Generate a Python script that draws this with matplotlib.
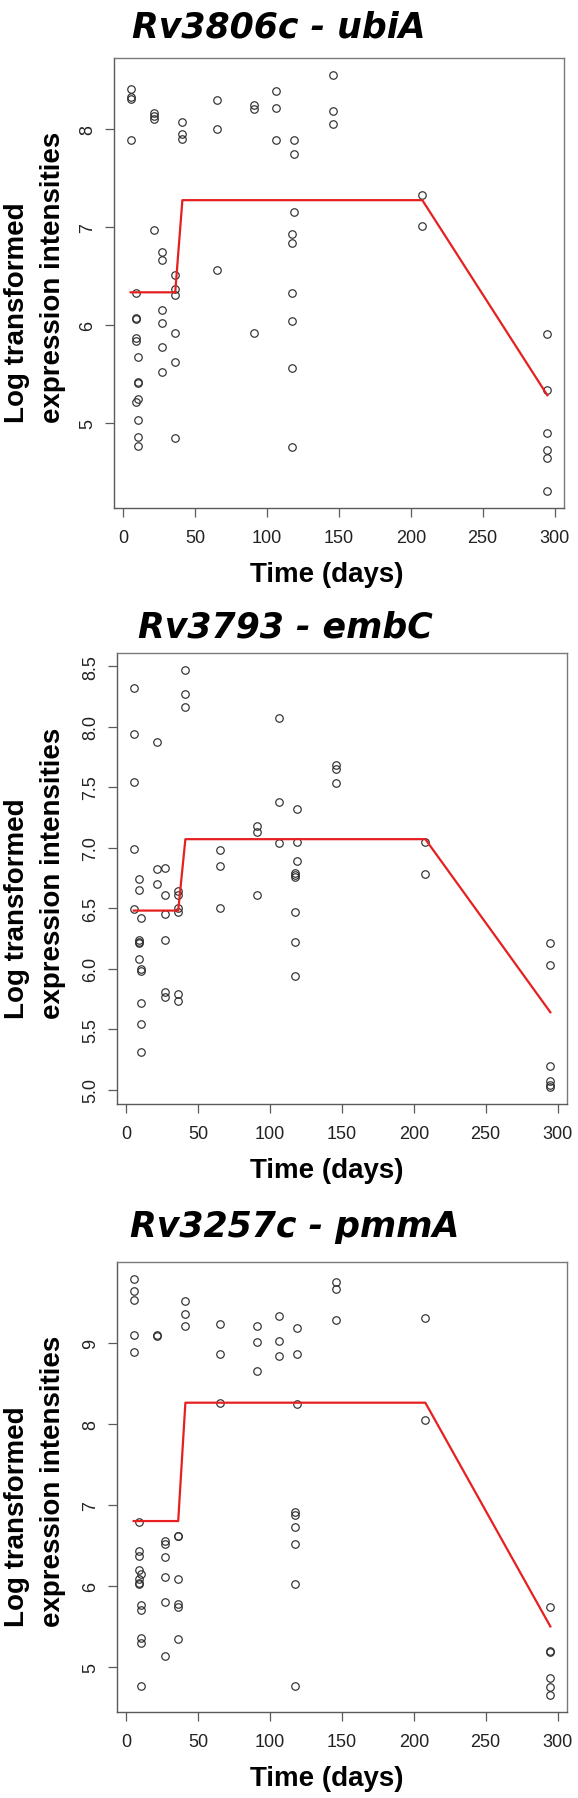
import matplotlib
matplotlib.use("Agg")
import matplotlib.pyplot as plt
import numpy as np

plt.rcParams['font.family'] = ['Liberation Sans', 'DejaVu Sans']

# ---------------- data ----------------
titles = ["Rv3806c - ubiA", "Rv3793 - embC", "Rv3257c - pmmA"]

# Panel 1: Rv3806c - ubiA
p1_days = [5, 5, 5, 5,
           9, 9, 9, 9, 9, 9,
           10, 10, 10, 10, 10, 10, 10,
           21, 21, 21, 21,
           27, 27, 27, 27, 27, 27,
           36, 36, 36, 36, 36, 36,
           41, 41, 41,
           65, 65, 65,
           91, 91, 91,
           106, 106, 106,
           117, 117, 117, 117, 117, 117,
           119, 119, 119,
           146, 146, 146,
           208, 208,
           295, 295, 295, 295, 295, 295]
p1_vals = [8.40, 8.32, 8.30, 7.88,
           6.32, 6.07, 6.06, 5.86, 5.83, 5.21,
           5.67, 5.42, 5.41, 5.24, 5.03, 4.85, 4.76,
           8.16, 8.13, 8.10, 6.97,
           6.74, 6.66, 6.15, 6.02, 5.77, 5.52,
           6.51, 6.36, 6.30, 5.92, 5.62, 4.84,
           8.07, 7.94, 7.89,
           8.29, 8.00, 6.56,
           8.24, 8.20, 5.92,
           8.38, 8.21, 7.88,
           6.92, 6.83, 6.32, 6.04, 5.56, 4.75,
           7.88, 7.74, 7.15,
           8.55, 8.18, 8.05,
           7.32, 7.01,
           5.90, 5.33, 4.90, 4.72, 4.64, 4.30]

# Panel 2: Rv3793 - embC
p2_days = [5, 5, 5, 5, 5,
           9, 9, 9, 9, 9, 9,
           10, 10, 10, 10, 10, 10,
           21, 21, 21,
           27, 27, 27, 27, 27, 27,
           36, 36, 36, 36, 36, 36,
           41, 41, 41,
           65, 65, 65,
           91, 91, 91,
           106, 106, 106,
           117, 117, 117, 117, 117, 117,
           119, 119, 119,
           146, 146, 146,
           208, 208,
           295, 295, 295, 295, 295, 295]
p2_vals = [8.32, 7.94, 7.54, 6.99, 6.49,
           6.74, 6.65, 6.24, 6.22, 6.21, 6.08,
           6.42, 6.00, 5.98, 5.72, 5.54, 5.31,
           7.87, 6.82, 6.70,
           6.83, 6.61, 6.45, 6.24, 5.81, 5.77,
           6.64, 6.61, 6.50, 6.47, 5.79, 5.73,
           8.47, 8.27, 8.16,
           6.98, 6.85, 6.50,
           7.18, 7.13, 6.61,
           8.07, 7.38, 7.04,
           6.79, 6.77, 6.76, 6.47, 6.22, 5.94,
           7.32, 7.05, 6.89,
           7.68, 7.65, 7.53,
           7.05, 6.78,
           6.21, 6.03, 5.20, 5.07, 5.04, 5.02]

# Panel 3: Rv3257c - pmmA
p3_days = [5, 5, 5, 5, 5,
           9, 9, 9, 9, 9, 9, 9,
           10, 10, 10, 10, 10, 10,
           21, 21,
           27, 27, 27, 27, 27, 27,
           36, 36, 36, 36, 36, 36,
           41, 41, 41,
           65, 65, 65,
           91, 91, 91,
           106, 106, 106,
           117, 117, 117, 117, 117, 117,
           119, 119, 119,
           146, 146, 146,
           208, 208,
           295, 295, 295, 295, 295, 295]
p3_vals = [9.79, 9.64, 9.53, 9.10, 8.88,
           6.79, 6.43, 6.37, 6.20, 6.09, 6.03, 6.02,
           6.15, 5.76, 5.70, 5.36, 5.30, 4.76,
           9.10, 9.08,
           6.56, 6.52, 6.36, 6.11, 5.80, 5.14,
           6.62, 6.61, 6.08, 5.78, 5.74, 5.35,
           9.51, 9.35, 9.21,
           9.23, 8.86, 8.26,
           9.20, 9.01, 8.65,
           9.33, 9.02, 8.83,
           6.91, 6.87, 6.73, 6.52, 6.02, 4.76,
           9.18, 8.86, 8.25,
           9.75, 9.66, 9.28,
           9.30, 8.05,
           5.74, 5.20, 5.19, 4.86, 4.75, 4.65]

# fitted piecewise model (red line)
fit_days = [5, 36, 41, 208, 295]
fit1 = [6.33, 6.33, 7.27, 7.27, 5.28]
fit2 = [6.48, 6.48, 7.07, 7.07, 5.64]
fit3 = [6.80, 6.80, 8.26, 8.26, 5.50]

x_ticks = [0, 50, 100, 150, 200, 250, 300]
y_ticks1 = [5, 6, 7, 8]
y_ticks2 = [5.0, 5.5, 6.0, 6.5, 7.0, 7.5, 8.0, 8.5]
y_ticks3 = [5, 6, 7, 8, 9]
y_labels2 = ["5.0", "5.5", "6.0", "6.5", "7.0", "7.5", "8.0", "8.5"]

# ---------------- layout (pixels) ----------------
W, H = 578, 1799
DPI = 100
fig = plt.figure(figsize=(W / DPI, H / DPI), dpi=DPI)
fig.patch.set_facecolor('white')

panels = [
    dict(days=p1_days, vals=p1_vals, fit=fit1, yt=y_ticks1, yl=None,
         l=114, r=564, t=59, b=509, title_base=38, title_x=279),
    dict(days=p2_days, vals=p2_vals, fit=fit2, yt=y_ticks2, yl=y_labels2,
         l=117, r=567, t=654, b=1105, title_base=637, title_x=285),
    dict(days=p3_days, vals=p3_vals, fit=fit3, yt=y_ticks3, yl=None,
         l=117, r=567, t=1263, b=1713, title_base=1237, title_x=295),
]

AX_COL = '#5a5a5a'

def r_range(v):
    lo, hi = min(v), max(v)
    pad = 0.04 * (hi - lo)
    return lo - pad, hi + pad

for i, p in enumerate(panels):
    l, r, t, b = p['l'], p['r'], p['t'], p['b']
    ax = fig.add_axes([l / W, 1 - b / H, (r - l) / W, (b - t) / H])
    ax.plot(p['days'], p['vals'], linestyle='none', marker='o',
            markersize=5.4, markerfacecolor='none', markeredgecolor='#2e2e2e',
            markeredgewidth=0.85)
    ax.plot(fit_days, p['fit'], color='#e5201f', linewidth=1.6)
    ax.set_xlim(*r_range(p['days']))
    ax.set_ylim(*r_range(p['vals']))
    ax.set_xticks(x_ticks)
    ax.set_yticks(p['yt'])
    if p['yl'] is not None:
        ax.set_yticklabels(p['yl'])
    for s in ax.spines.values():
        s.set_color('#7a7a7a')
        s.set_linewidth(1.0)
    ax.spines['left'].set_color(AX_COL)
    ax.spines['bottom'].set_color(AX_COL)
    ax.tick_params(direction='out', length=6.5, width=0.9, color=AX_COL,
                   labelsize=13, labelcolor='#222222')
    ax.tick_params(axis='x', pad=8.5)
    ax.tick_params(axis='y', pad=6.5)
    for lab in ax.get_yticklabels():
        lab.set_rotation(90)
        lab.set_va('center')
    # title: wide bold-oblique face
    fig.text(p['title_x'] / W, 1 - p['title_base'] / H, titles[i],
             ha='center', va='baseline', fontsize=25, fontweight='bold',
             fontstyle='italic', family='DejaVu Sans', color='black')
    fig.text(327 / W, 1 - (b + 73) / H, 'Time (days)', ha='center', va='baseline',
             fontsize=20, fontweight='bold', color='black')
    ystart = 1 - (b - 86) / H
    fig.text(17.5 / W, ystart, 'Log transformed', rotation=90,
             rotation_mode='anchor', ha='left', va='center',
             fontsize=20, fontweight='bold', color='black')
    fig.text(52.5 / W, ystart, 'expression intensities', rotation=90,
             rotation_mode='anchor', ha='left', va='center',
             fontsize=20, fontweight='bold', color='black')

fig.savefig('out.png', dpi=DPI, facecolor='white')
